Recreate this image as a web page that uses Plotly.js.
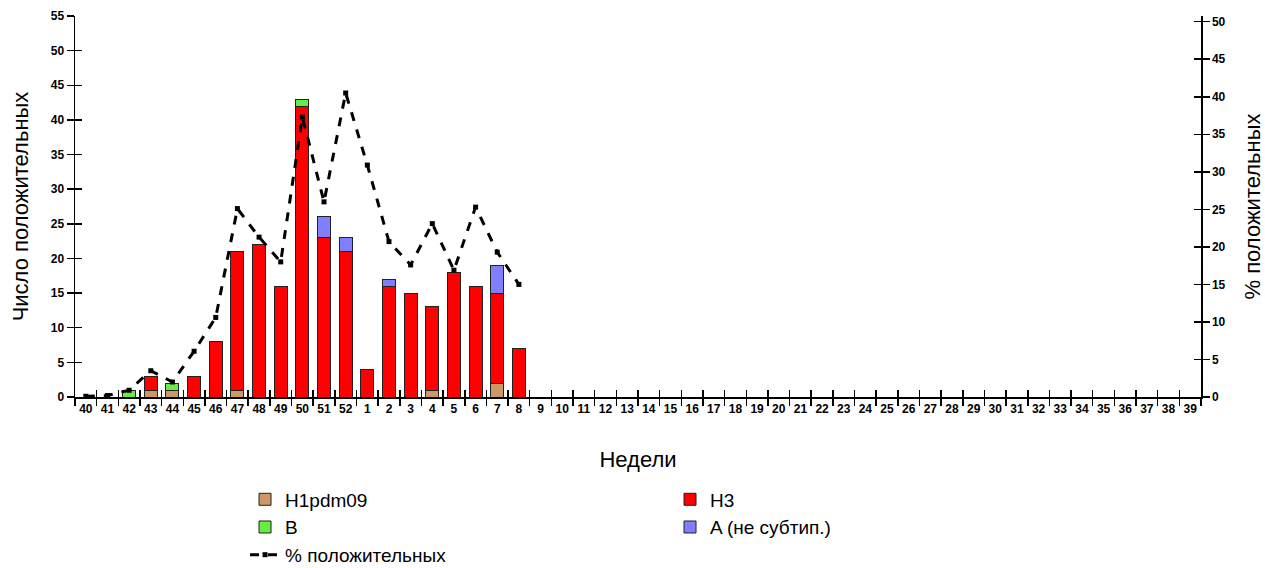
<!DOCTYPE html>
<html>
<head>
<meta charset="utf-8">
<script src="https://cdn.plot.ly/plotly-3.0.1.min.js"></script>
<style>html,body{margin:0;padding:0;background:#fff;}#chart{width:1265px;height:568px;}</style>
</head>
<body>
<div id="chart"></div>
<script>
var weeks = ["40","41","42","43","44","45","46","47","48","49","50","51","52",
  "1","2","3","4","5","6","7","8","9","10","11","12","13","14","15","16","17","18","19","20",
  "21","22","23","24","25","26","27","28","29","30","31","32","33","34","35","36","37","38","39"];

var h1pdm09 = [0,0,0,1,1,0,0,1,0,0,0,0,0, 0,0,0,1,0,0,2,0];
var h3      = [0,0,0,2,0,3,8,20,22,16,42,23,21, 4,16,15,12,18,16,13,7];
var bVals   = [0,0,1,0,1,0,0,0,0,0,1,0,0, 0,0,0,0,0,0,0,0];
var aUnsub  = [0,0,0,0,0,0,0,0,0,0,0,3,2, 0,1,0,0,0,0,4,0];
var pctPos  = [0.1,0.2,0.9,3.5,2.0,6.1,10.6,25.1,21.3,18.0,37.3,26.0,40.5,
  30.9,20.7,17.6,23.1,16.9,25.3,19.3,15.0];

var nWeeks = weeks.length;
var nData = h3.length;
var xs = weeks.slice(0, nData);

var barLine = {color:'#222', width:1};
var traces = [
  {type:'bar', name:'H1pdm09', x:xs, y:h1pdm09, marker:{color:'#CC9966', line:barLine}},
  {type:'bar', name:'H3', x:xs, y:h3, marker:{color:'#FF0000', line:barLine}},
  {type:'bar', name:'B', x:xs, y:bVals, marker:{color:'#66EE44', line:barLine}},
  {type:'bar', name:'A (не субтип.)', x:xs, y:aUnsub, marker:{color:'#8080FF', line:barLine}},
  {type:'scatter', mode:'lines+markers', name:'% положительных', x:xs, y:pctPos, yaxis:'y2',
   line:{color:'#000', width:3, dash:'dash'}, marker:{symbol:'square', size:5, color:'#000'}}
];

var tickFont = {family:'Liberation Sans, Arial, sans-serif', size:12, color:'#000', weight:'bold'};
var titleFont = {family:'Liberation Sans, Arial, sans-serif', size:22, color:'#000'};

var layout = {
  width:1265, height:568,
  margin:{l:75, r:64, t:16, b:171, autoexpand:false},
  paper_bgcolor:'#fff', plot_bgcolor:'#fff',
  barmode:'stack', bargap:0.4,
  showlegend:true,
  font:{family:'Liberation Sans, Arial, sans-serif', color:'#000'},
  xaxis:{type:'category', categoryorder:'array', categoryarray:weeks, range:[-0.5, nWeeks-0.5],
    showline:true, linecolor:'#000', linewidth:1.5, ticks:'outside', tickson:'boundaries',
    ticklen:7, tickcolor:'#000', tickwidth:1.5, tickfont:tickFont, tickangle:0,
    showgrid:false, zeroline:false, automargin:false,
    title:{text:'Недели', font:titleFont, standoff:36}},
  xaxis2:{overlaying:'x', type:'linear', range:[-0.5, nWeeks-0.5], tick0:-0.5, dtick:1,
    ticks:'inside', ticklen:7, tickcolor:'#000', tickwidth:1.5, showticklabels:false,
    showgrid:false, zeroline:false, showline:false},
  yaxis:{range:[0,55], dtick:5, showline:true, linecolor:'#000', linewidth:1.5,
    ticks:'outside', ticklen:7, tickcolor:'#000', tickwidth:1.5, tickfont:tickFont,
    showgrid:false, zeroline:false, automargin:false,
    title:{text:'Число положительных', font:titleFont, standoff:16}},
  yaxis3:{overlaying:'y', range:[0,55], dtick:5, ticks:'inside', ticklen:7, tickcolor:'#000',
    tickwidth:1.5, showticklabels:false, showgrid:false, zeroline:false, showline:false},
  yaxis2:{overlaying:'y', side:'right', range:[0,50.76], dtick:5, showline:true, linecolor:'#000',
    linewidth:1.5, ticks:'outside', ticklen:7, tickcolor:'#000', tickwidth:1.5, tickfont:tickFont,
    showgrid:false, zeroline:false, automargin:false,
    title:{text:'% положительных', font:titleFont, standoff:20}},
  yaxis4:{overlaying:'y', side:'right', range:[0,50.76], dtick:5, ticks:'inside', ticklen:7,
    tickcolor:'#000', tickwidth:1.5, showticklabels:false, showgrid:false, zeroline:false, showline:false},
  legend:{orientation:'h', x:0.151, xanchor:'left', y:-0.219, yanchor:'top',
    entrywidth:380, traceorder:'normal',
    font:{family:'Liberation Sans, Arial, sans-serif', size:19, color:'#000'},
    bgcolor:'rgba(0,0,0,0)'}
};

// invisible helper traces that activate the overlay tick axes (ticks crossing the axis lines)
traces.push({type:'scatter', x:[0], y:[0], xaxis:'x2', yaxis:'y3', mode:'none', showlegend:false, hoverinfo:'skip'});
traces.push({type:'scatter', x:[0], y:[0], xaxis:'x2', yaxis:'y4', mode:'none', showlegend:false, hoverinfo:'skip'});

Plotly.newPlot('chart', traces, layout, {displayModeBar:false, staticPlot:true});
</script>
</body>
</html>
